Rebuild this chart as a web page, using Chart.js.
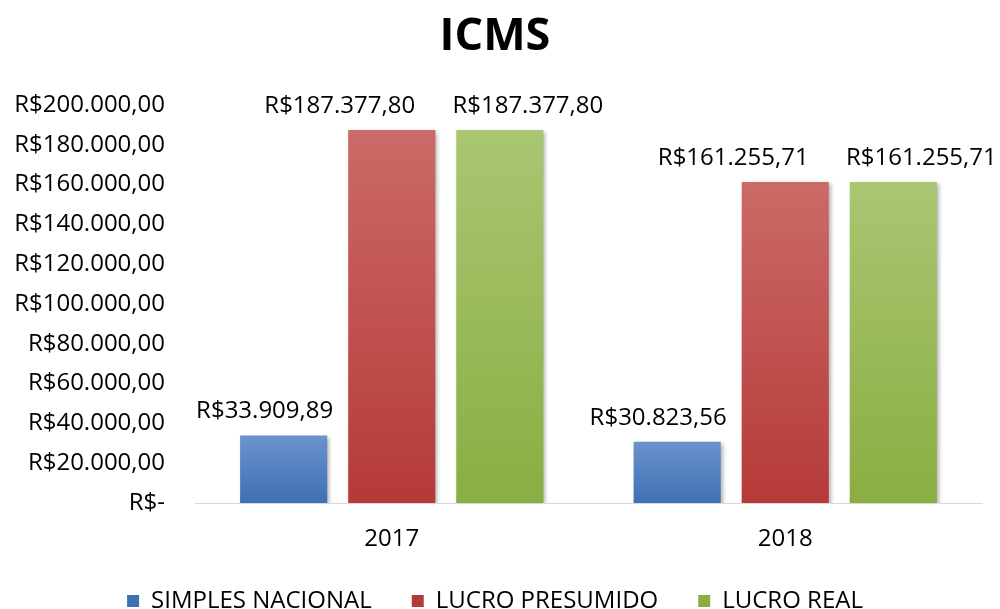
<!DOCTYPE html>
<html>
<head>
<meta charset="utf-8">
<script src="https://cdn.jsdelivr.net/npm/chart.js@4"></script>
<style>
  body { margin: 0; background: #fff; }
  #wrap { width: 1000px; height: 609px; }
</style>
</head>
<body>
<div id="wrap"><canvas id="barChart"></canvas></div>
<script>
// data
const years = ['2017', '2018']
const simplesNacional = [33909.89, 30823.56]
const lucroPresumido = [187377.80, 161255.71]
const lucroReal = [187377.80, 161255.71]
const yTickLabels = ['R$-', 'R$20.000,00', 'R$40.000,00', 'R$60.000,00', 'R$80.000,00',
  'R$100.000,00', 'R$120.000,00', 'R$140.000,00', 'R$160.000,00', 'R$180.000,00', 'R$200.000,00']

const FONT = "'Open Sans', sans-serif"

// R$ format like 187.377,80
const brl = (v) => {
  const parts = v.toFixed(2).split('.')
  const int = parts[0].replace(/\B(?=(\d{3})+(?!\d))/g, '.')
  return 'R$' + int + ',' + parts[1]
}

// gradient per bar, lighter at top
const barGradient = (top, bottom) => (ctx) => {
  const chart = ctx.chart
  const area = chart.chartArea
  if (!area || ctx.parsed === undefined) return bottom
  const yScale = chart.scales.y
  const y0 = yScale.getPixelForValue(ctx.parsed.y)
  const y1 = yScale.getPixelForValue(0)
  const g = chart.ctx.createLinearGradient(0, y0, 0, y1)
  g.addColorStop(0, top)
  g.addColorStop(1, bottom)
  return g
}

// Excel pushed the labels sideways so they don't collide
const labelShift = [-19, -52, 28]

const valueLabels = {
  id: 'valueLabels',
  afterDatasetsDraw(chart) {
    const ctx = chart.ctx
    ctx.save()
    ctx.font = '24px ' + FONT
    ctx.fillStyle = '#000'
    ctx.textAlign = 'center'
    ctx.textBaseline = 'middle'
    chart.data.datasets.forEach((ds, i) => {
      chart.getDatasetMeta(i).data.forEach((bar, j) => {
        ctx.fillText(brl(ds.data[j]), bar.x + labelShift[i], bar.y - 24)
      })
    })
    ctx.restore()
  },
}

const barShadow = {
  id: 'barShadow',
  beforeDatasetsDraw(chart) {
    const ctx = chart.ctx
    ctx.save()
    ctx.shadowColor = 'rgba(0,0,0,0.3)'
    ctx.shadowBlur = 4
    ctx.shadowOffsetX = 2
    ctx.shadowOffsetY = 2
  },
  afterDatasetsDraw(chart) {
    chart.ctx.restore()
  },
}

const canvas = document.getElementById('barChart')
new Chart(canvas, {
  type: 'bar',
  data: {
    labels: years,
    datasets: [
      { label: 'SIMPLES NACIONAL', data: simplesNacional,
        backgroundColor: barGradient('#6b93cc', '#3d70b5') },
      { label: 'LUCRO PRESUMIDO', data: lucroPresumido,
        backgroundColor: barGradient('#cb6a68', '#b53a37') },
      { label: 'LUCRO REAL', data: lucroReal,
        backgroundColor: barGradient('#a9c672', '#8aae42') },
    ],
  },
  options: {
    responsive: true,
    maintainAspectRatio: false,
    animation: false,
    barPercentage: 0.806,
    categoryPercentage: 0.824,
    layout: { padding: { left: 8, right: 18, top: 0, bottom: -14 } },
    scales: {
      x: {
        grid: { display: false, drawTicks: false },
        border: { display: true, color: '#d9d9d9', width: 1 },
        ticks: { color: '#000', font: { family: FONT, size: 24 }, padding: 22 },
        afterFit: (scale) => { scale.height = 46 },
      },
      y: {
        min: 0,
        max: 200000,
        grid: { display: false, drawTicks: false },
        border: { display: false },
        ticks: {
          stepSize: 20000,
          color: '#000',
          font: { family: FONT, size: 24 },
          padding: 30,
          callback: (v, i) => yTickLabels[i],
        },
        afterFit: (scale) => { scale.width = 187 },
      },
    },
    plugins: {
      title: {
        display: true,
        text: 'ICMS',
        color: '#000',
        font: { family: FONT, size: 45, weight: 'bold' },
        padding: { top: 10, bottom: 41 },
      },
      legend: {
        position: 'bottom',
        labels: {
          color: '#000',
          font: { family: FONT, size: 24 },
          boxWidth: 12,
          boxHeight: 12,
          padding: 40,
        },
      },
      tooltip: { enabled: false },
    },
  },
  plugins: [barShadow, valueLabels],
})
</script>
</body>
</html>
